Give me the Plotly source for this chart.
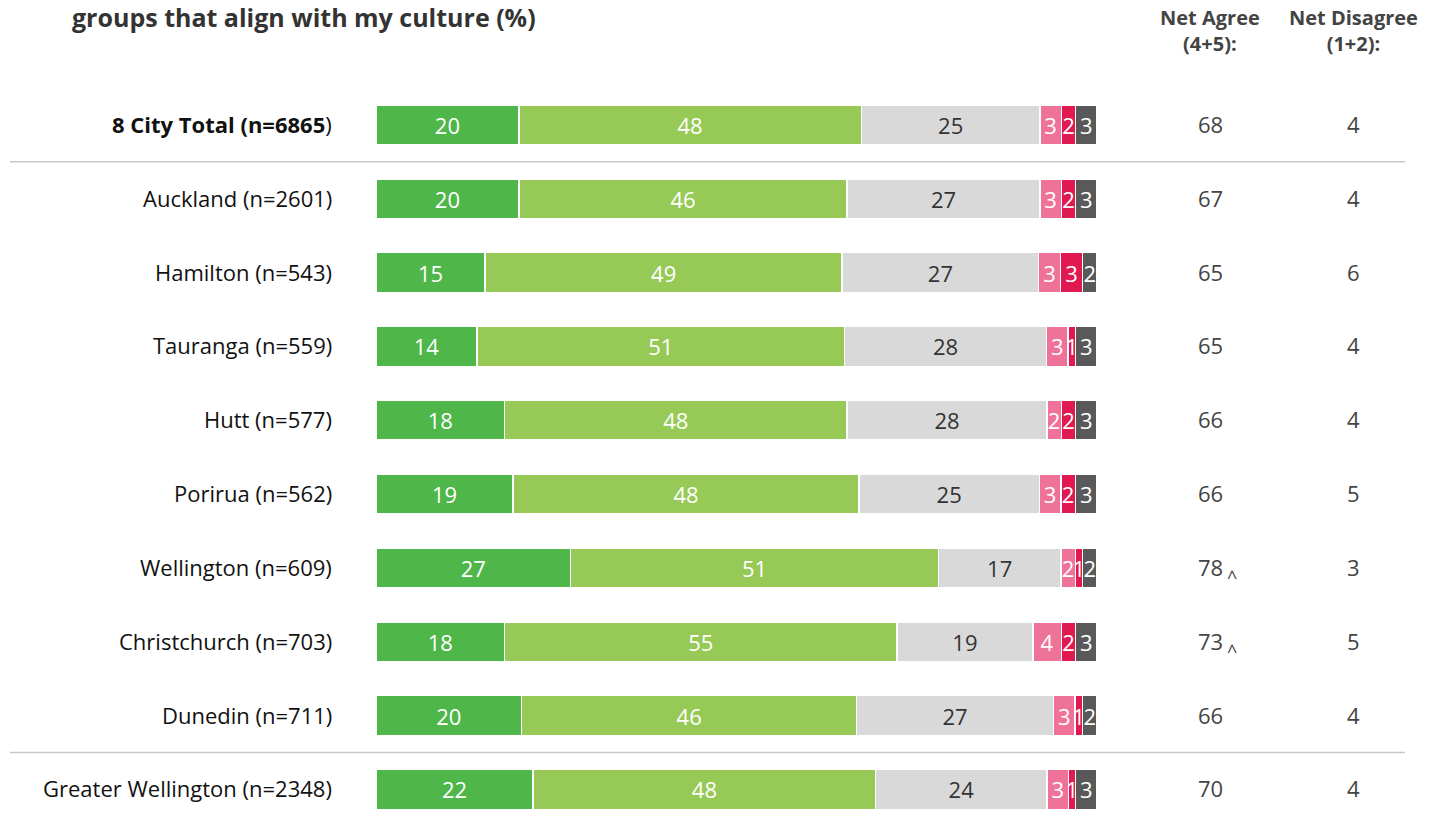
import plotly.graph_objects as go

# Survey rows, top to bottom
rows = [
    "<b>8 City Total (n=6865</b>)",
    "Auckland (n=2601)",
    "Hamilton (n=543)",
    "Tauranga (n=559)",
    "Hutt (n=577)",
    "Porirua (n=562)",
    "Wellington (n=609)",
    "Christchurch (n=703)",
    "Dunedin (n=711)",
    "Greater Wellington (n=2348)",
]

# Response shares (%) per row
strongly_agree = [20, 20, 15, 14, 18, 19, 27, 18, 20, 22]
agree = [48, 46, 49, 51, 48, 48, 51, 55, 46, 48]
neutral = [25, 27, 27, 28, 28, 25, 17, 19, 27, 24]
disagree = [3, 3, 3, 3, 2, 3, 2, 4, 3, 3]
strongly_disagree = [2, 2, 3, 1, 2, 2, 1, 2, 1, 1]
dont_know = [3, 3, 2, 3, 3, 3, 2, 3, 2, 3]

net_agree = [68, 67, 65, 65, 66, 66, 78, 73, 66, 70]
net_disagree = [4, 4, 6, 4, 4, 5, 3, 5, 4, 4]
sig_higher = [False, False, False, False, False, False, True, True, False, False]

title_text = "groups that align with my culture (%)"

series = [
    ("Strongly agree (5)", strongly_agree, "#4fb64a", "white"),
    ("Agree (4)", agree, "#97c957", "white"),
    ("Neutral (3)", neutral, "#d9d9d9", "#333333"),
    ("Disagree (2)", disagree, "#ef7399", "white"),
    ("Strongly disagree (1)", strongly_disagree, "#e01a50", "white"),
    ("Don't know", dont_know, "#595959", "white"),
]

FONT = "'Open Sans', Lato, sans-serif"
TXT = 22
ypos = list(range(len(rows)))

fig = go.Figure()
for name, vals, color, tcolor in series:
    fig.add_trace(go.Bar(
        name=name,
        y=ypos,
        x=vals,
        orientation="h",
        width=0.54,
        marker=dict(color=color, line=dict(color="white", width=1.5)),
        text=[str(v) for v in vals],
        textposition="inside",
        insidetextanchor="middle",
        textangle=0,
        textfont=dict(color=tcolor, size=TXT, family=FONT),
        showlegend=False,
        hoverinfo="skip",
    ))

PLOT_W = 721
NA_X = (1210 - 376) / PLOT_W
ND_X = (1353 - 376) / PLOT_W

annotations = []
for i, lab in enumerate(rows):
    # Row label
    annotations.append(dict(
        x=(334 - 376) / PLOT_W, xref="paper", y=i, yref="y", text=lab, showarrow=False,
        xanchor="right", yanchor="middle", yshift=1,
        font=dict(size=TXT, color="#111111", family=FONT),
    ))
    # Net agree / net disagree values
    annotations.append(dict(
        x=NA_X, xref="paper", y=i, yref="y", text=str(net_agree[i]), showarrow=False,
        xanchor="center", yanchor="middle", yshift=1,
        font=dict(size=TXT, color="#444444", family=FONT),
    ))
    annotations.append(dict(
        x=ND_X, xref="paper", y=i, yref="y", text=str(net_disagree[i]), showarrow=False,
        xanchor="center", yanchor="middle", yshift=1,
        font=dict(size=TXT, color="#444444", family=FONT),
    ))
    # Significance marker
    if sig_higher[i]:
        annotations.append(dict(
            x=(1232 - 376) / PLOT_W, xref="paper", y=i, yref="y", text="^", showarrow=False,
            xanchor="center", yanchor="middle", yshift=-9,
            font=dict(size=18, color="#444444", family=FONT),
        ))

# Column headers
for xp, l1, l2 in [(NA_X, "Net Agree", "(4+5):"), (ND_X, "Net Disagree", "(1+2):")]:
    annotations.append(dict(
        x=xp, xref="paper", y=1, yref="paper", yshift=58,
        text=f"<b>{l1}</b><br><b>{l2}</b>", showarrow=False,
        xanchor="center", yanchor="middle", align="center",
        font=dict(size=20, color="#444444", family=FONT),
    ))

# Title
annotations.append(dict(
    x=(70 - 376) / PLOT_W, xref="paper", y=1, yref="paper", yshift=71,
    text=f"<b>{title_text}</b>", showarrow=False, xanchor="left", yanchor="middle",
    font=dict(size=25, color="#333333", family=FONT),
))

# Separators below the total and above Greater Wellington
shapes = []
for yv in [0.5, 8.5]:
    shapes.append(dict(
        type="line", xref="paper", yref="y",
        x0=(10 - 376) / PLOT_W, x1=(1405 - 376) / PLOT_W, y0=yv, y1=yv,
        line=dict(color="#c8c8c8", width=1.5),
    ))

fig.update_layout(
    barmode="stack",
    barnorm="percent",
    width=1434,
    height=815,
    margin=dict(l=376, r=337, t=88, b=5),
    plot_bgcolor="white",
    paper_bgcolor="white",
    xaxis=dict(range=[0, 100], visible=False, fixedrange=True),
    yaxis=dict(range=[9.28, -0.5], visible=False, fixedrange=True),
    uniformtext=dict(minsize=TXT, mode="show"),
    annotations=annotations,
    shapes=shapes,
    font=dict(family=FONT),
)

fig.write_html("out.html")
